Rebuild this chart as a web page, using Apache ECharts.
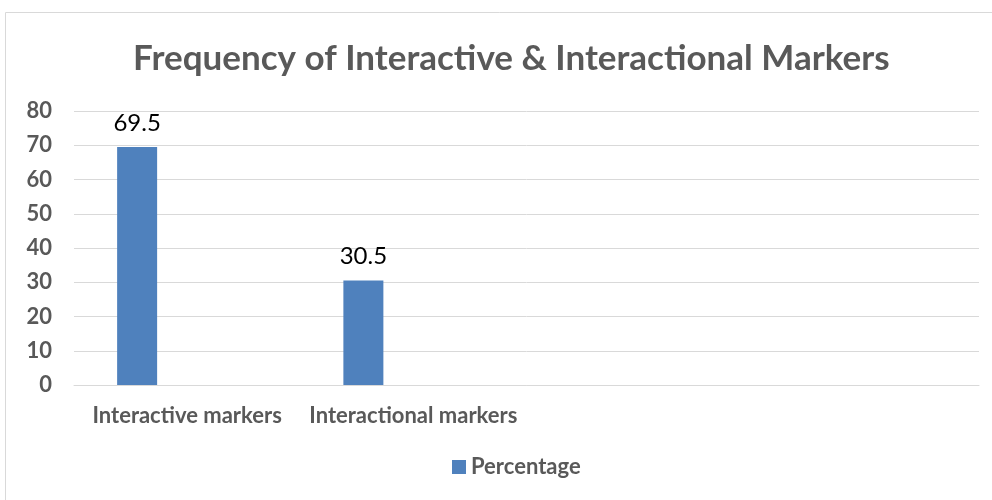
<!DOCTYPE html>
<html>
<head>
<meta charset="utf-8">
<script src="https://cdn.jsdelivr.net/npm/echarts@6/dist/echarts.min.js"></script>
<style>
  html, body { margin: 0; padding: 0; background: #fff; }
  #main { width: 992px; height: 500px; }
</style>
</head>
<body>
<div id="main"></div>
<script>
// chart data
var categories = ['Interactive markers', 'Interactional markers', '', ''];
var percentage = [69.5, 30.5, null, null];
var yTicks = [0, 10, 20, 30, 40, 50, 60, 70, 80];

var gray = '#595959';
var font = 'Lato, "Open Sans", sans-serif';

var chart = echarts.init(document.getElementById('main'));

var option = {
  animation: false,
  graphic: [{
    type: 'rect',
    shape: { x: 5.5, y: 12.5, width: 1000, height: 500 },
    style: { fill: 'none', stroke: '#d9d9d9', lineWidth: 1 },
    silent: true
  }],
  title: {
    text: 'Frequency of Interactive & Interactional Markers',
    left: 128,
    top: 36,
    textStyle: { fontFamily: font, fontSize: 35, fontWeight: 'bold', color: gray }
  },
  legend: {
    data: ['Percentage'],
    bottom: 17,
    left: 447,
    icon: 'rect',
    itemWidth: 14,
    itemHeight: 14,
    itemGap: 6,
    textStyle: { fontFamily: font, fontSize: 22, fontWeight: 'bold', color: gray }
  },
  grid: { left: 74, right: 13, top: 111, bottom: 115, containLabel: false },
  xAxis: {
    type: 'category',
    data: categories,
    axisLine: { lineStyle: { color: '#d9d9d9' } },
    axisTick: { show: false },
    axisLabel: { fontFamily: font, fontSize: 22, fontWeight: 'bold', color: gray, margin: 20, interval: 0 }
  },
  yAxis: {
    type: 'value',
    min: yTicks[0],
    max: yTicks[yTicks.length - 1],
    interval: 10,
    axisLine: { show: false },
    axisTick: { show: false },
    splitLine: { lineStyle: { color: '#d9d9d9', width: 1 } },
    axisLabel: { fontFamily: font, fontSize: 22, fontWeight: 'bold', color: gray, margin: 22 }
  },
  series: [
    {
      name: 'Percentage',
      type: 'bar',
      data: percentage,
      barWidth: 40,
      barGap: '25%',
      itemStyle: { color: '#4f81bd' },
      label: {
        show: true,
        position: 'top',
        distance: 12,
        fontFamily: font,
        fontSize: 24,
        color: '#000'
      }
    },
    { name: 'blank1', type: 'bar', data: [null, null, null, null], barWidth: 40 },
    { name: 'blank2', type: 'bar', data: [null, null, null, null], barWidth: 40 }
  ]
};

chart.setOption(option);
</script>
</body>
</html>
